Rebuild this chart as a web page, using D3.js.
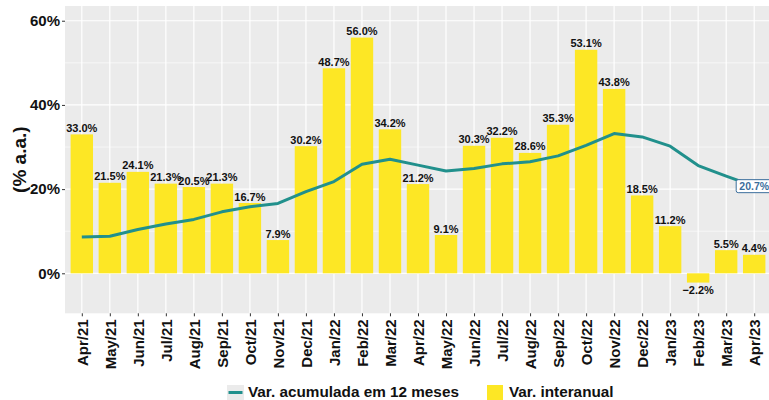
<!DOCTYPE html>
<html>
<head>
<meta charset="utf-8">
<script src="https://cdn.jsdelivr.net/npm/d3@7"></script>
<style>
  body { margin: 0; background: #fff; }
  svg { display: block; font-family: "Liberation Sans", Arial, sans-serif; }
</style>
</head>
<body>
<svg id="chart" width="769" height="400"></svg>
<script>
// months on the x axis
var months = ['Apr/21','May/21','Jun/21','Jul/21','Aug/21','Sep/21','Oct/21','Nov/21','Dec/21',
  'Jan/22','Feb/22','Mar/22','Apr/22','May/22','Jun/22','Jul/22','Aug/22','Sep/22','Oct/22',
  'Nov/22','Dec/22','Jan/23','Feb/23','Mar/23','Apr/23']

// Var. interanual (bars)
var interanual = [33.0, 21.5, 24.1, 21.3, 20.5, 21.3, 16.7, 7.9, 30.2, 48.7, 56.0, 34.2,
  21.2, 9.1, 30.3, 32.2, 28.6, 35.3, 53.1, 43.8, 18.5, 11.2, -2.2, 5.5, 4.4]

// Var. acumulada em 12 meses (line)
var acumulada = [8.6, 8.8, 10.4, 11.7, 12.8, 14.6, 15.8, 16.6, 19.4, 21.8, 25.9, 27.1,
  25.7, 24.3, 24.9, 26.0, 26.5, 27.9, 30.4, 33.2, 32.4, 30.2, 25.6, 23.1, 20.7]

var yTicks = [0, 20, 40, 60]
var yMinor = [10, 30, 50]

var barColor = '#FDE725'
var lineColor = '#21908C'

var svg = d3.select('#chart')
// panel edges (note: "top" is taken by window.top)
var pLeft = 65, pRight = 771, pTop = 6, pBottom = 313.3

// discrete scale with ggplot style 0.6 expansion
var step = (pRight - pLeft) / (months.length - 1 + 1.2)
var x = d3.scalePoint().domain(months).range([pLeft + 0.6 * step, pRight - 0.6 * step])
var y = d3.scaleLinear().domain([-9.5, 63.5]).range([pBottom, pTop])
var barW = step * 0.8

// panel
svg.append('rect').attr('x', pLeft).attr('y', pTop)
  .attr('width', pRight - pLeft).attr('height', pBottom - pTop).attr('fill', '#EBEBEB')

var grid = svg.append('g')
grid.selectAll('.minor').data(yMinor).enter().append('line')
  .attr('x1', pLeft).attr('x2', pRight)
  .attr('y1', d => y(d)).attr('y2', d => y(d))
  .attr('stroke', '#fff').attr('stroke-width', 0.6)
grid.selectAll('.major').data(yTicks).enter().append('line')
  .attr('x1', pLeft).attr('x2', pRight)
  .attr('y1', d => y(d)).attr('y2', d => y(d))
  .attr('stroke', '#fff').attr('stroke-width', 1.2)
grid.selectAll('.vx').data(months).enter().append('line')
  .attr('x1', d => x(d)).attr('x2', d => x(d))
  .attr('y1', pTop).attr('y2', pBottom)
  .attr('stroke', '#fff').attr('stroke-width', 1.2)

// bars
svg.append('g').selectAll('rect').data(interanual).enter().append('rect')
  .attr('x', (d, i) => x(months[i]) - barW / 2)
  .attr('width', barW)
  .attr('y', d => y(Math.max(0, d)))
  .attr('height', d => Math.abs(y(d) - y(0)))
  .attr('fill', barColor)

// line
var line = d3.line().x((d, i) => x(months[i])).y(d => y(d))
svg.append('path').datum(acumulada)
  .attr('d', line).attr('fill', 'none')
  .attr('stroke', lineColor).attr('stroke-width', 3)
  .attr('stroke-linejoin', 'round')

// bar labels
var fmt = v => (v < 0 ? '\u2212' + Math.abs(v).toFixed(1) : v.toFixed(1)) + '%'
svg.append('g').selectAll('text').data(interanual).enter().append('text')
  .attr('x', (d, i) => x(months[i]))
  .attr('y', d => d >= 0 ? y(d) - 2.5 : y(d) + 11)
  .attr('text-anchor', 'middle')
  .attr('font-size', 11).attr('font-weight', 'bold').attr('fill', '#111')
  .text(d => fmt(d))

// end label of line
var last = acumulada.length - 1
var lx = x(months[last]), ly = y(acumulada[last])
svg.append('rect').attr('x', lx - 18).attr('y', ly - 6.5)
  .attr('width', 36).attr('height', 13).attr('rx', 2)
  .attr('fill', '#fff').attr('stroke', '#3b6e9c').attr('stroke-width', 1)
svg.append('text').attr('x', lx).attr('y', ly + 4)
  .attr('text-anchor', 'middle').attr('font-size', 10.5).attr('font-weight', 'bold')
  .attr('fill', '#3b6e9c').text(acumulada[last].toFixed(1) + '%')

// y axis
var yAxis = svg.append('g').attr('transform', 'translate(' + pLeft + ',0)')
  .call(d3.axisLeft(y).tickValues(yTicks).tickFormat(d => d + '%').tickSize(3).tickPadding(2))
yAxis.select('.domain').remove()
yAxis.selectAll('line').attr('stroke', '#333')
yAxis.selectAll('text').attr('font-size', 15).attr('font-weight', 'bold')
  .attr('fill', '#111').attr('font-family', '"Liberation Sans", Arial, sans-serif')

// x axis
var xAxis = svg.append('g').attr('transform', 'translate(0,' + pBottom + ')')
  .call(d3.axisBottom(x).tickSize(3).tickPadding(2))
xAxis.select('.domain').remove()
xAxis.selectAll('line').attr('stroke', '#333')
xAxis.selectAll('text')
  .attr('font-size', 15).attr('font-weight', 'bold').attr('fill', '#111')
  .attr('font-family', '"Liberation Sans", Arial, sans-serif')
  .attr('transform', 'rotate(-90)')
  .attr('text-anchor', 'end').attr('dy', '0.35em')
  .attr('x', -6).attr('y', 0)

// y title
svg.append('text')
  .attr('transform', 'translate(26,' + ((pTop + pBottom) / 2) + ') rotate(-90)')
  .attr('text-anchor', 'middle').attr('font-size', 19).attr('font-weight', 'bold')
  .attr('fill', '#111').text('(% a.a.)')

// legend
var lg = svg.append('g')
lg.append('rect').attr('x', 227).attr('y', 385).attr('width', 17).attr('height', 15).attr('fill', '#EBEBEB')
lg.append('line').attr('x1', 228.5).attr('x2', 242.5).attr('y1', 392.5).attr('y2', 392.5)
  .attr('stroke', lineColor).attr('stroke-width', 3)
lg.append('text').attr('x', 248).attr('y', 396.5).attr('font-size', 15.3).attr('font-weight', 'bold')
  .attr('fill', '#111').text('Var. acumulada em 12 meses')
lg.append('rect').attr('x', 487).attr('y', 385).attr('width', 16).attr('height', 15).attr('fill', barColor)
lg.append('text').attr('x', 509).attr('y', 396.5).attr('font-size', 15.3).attr('font-weight', 'bold')
  .attr('fill', '#111').text('Var. interanual')
</script>
</body>
</html>
